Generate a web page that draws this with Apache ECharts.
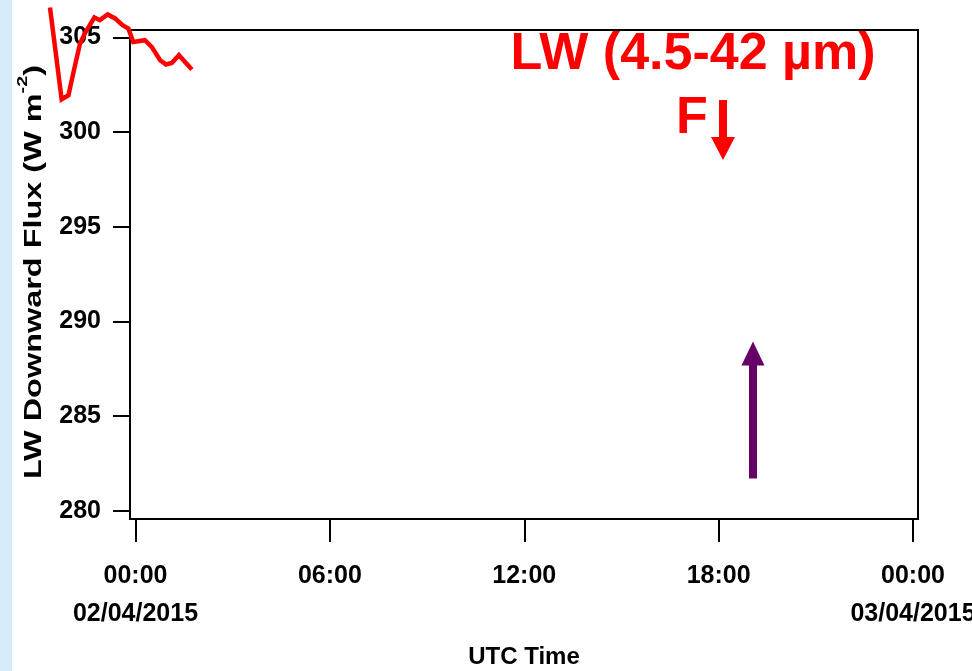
<!DOCTYPE html>
<html>
<head>
<meta charset="utf-8">
<script src="https://cdn.jsdelivr.net/npm/echarts@6/dist/echarts.min.js"></script>
<style>
  html, body { margin: 0; padding: 0; background: #ffffff; }
  #chart { width: 972px; height: 671px; }
</style>
</head>
<body>
<div id="chart"></div>
<script>
// Time in hours relative to 00:00 UTC on 02/04/2015
const timeHours = [-2.64, -2.28, -2.07, -1.90, -1.71, -1.56, -1.27, -1.10, -0.86, -0.63, -0.40,
                   -0.22, -0.07, 0.29, 0.50, 0.76, 0.94, 1.12, 1.34, 1.53, 1.74];
// Downwelling longwave flux (W m-2)
const lwDownFlux = [306.59, 301.74, 301.95, 303.28, 304.70, 305.23, 306.06, 305.92, 306.22, 306.01, 305.65,
                    305.48, 304.77, 304.86, 304.51, 303.80, 303.58, 303.66, 304.07, 303.71, 303.31];

const xTickHours = [0, 6, 12, 18, 24];
const xTickLabels = ['00:00\n02/04/2015', '06:00', '12:00', '18:00', '00:00\n03/04/2015'];
const yTickValues = [280, 285, 290, 295, 300, 305];

// Event marker: time (h) and flux span of the upward arrow
const markerHour = [19.06];
const markerFlux = [281.7, 288.3];

// Axis extents of the framed plot
const xRange = [-0.17, 24.154];
const yRange = [279.56, 305.40];

const W = 972, H = 671;
const plot = { left: 130, top: 30, right: 54, bottom: 152 };

// The trace runs past the frame, so it is drawn on a full-canvas grid whose
// scales are extended to coincide with the framed plot's scales.
const xPerPx = (xRange[1] - xRange[0]) / (W - plot.left - plot.right);
const yPerPx = (yRange[1] - yRange[0]) / (H - plot.top - plot.bottom);
const xOuter = [xRange[0] - plot.left * xPerPx, xRange[1] + plot.right * xPerPx];
const yOuter = [yRange[0] - plot.bottom * yPerPx, yRange[1] + plot.top * yPerPx];

const tickFont = "'Liberation Sans', Arial, Helvetica, sans-serif";
const mainFont = "'Liberation Sans', Arial, Helvetica, sans-serif";

const chart = echarts.init(document.getElementById('chart'), null, { renderer: 'canvas' });

chart.setOption({
  animation: false,
  backgroundColor: '#ffffff',
  grid: [{
    left: plot.left, top: plot.top, right: plot.right, bottom: plot.bottom,
    containLabel: false,
    outerBoundsMode: 'none',
    show: true,
    borderColor: '#000000',
    borderWidth: 2,
    backgroundColor: '#ffffff'
  }, {
    left: 0, top: 0, right: 0, bottom: 0,
    containLabel: false,
    outerBoundsMode: 'none',
    show: false
  }],
  xAxis: [{
    type: 'value',
    gridIndex: 0,
    min: xRange[0],
    max: xRange[1],
    splitLine: { show: false },
    axisLine: { show: true, onZero: false, lineStyle: { color: '#000000', width: 2 } },
    axisTick: { show: true, customValues: xTickHours, length: 23, lineStyle: { color: '#000000', width: 2 } },
    axisLabel: {
      customValues: xTickHours,
      formatter: v => xTickLabels[xTickHours.indexOf(v)] || '',
      margin: 38,
      color: '#000000',
      fontFamily: tickFont,
      fontWeight: 'bold',
      fontSize: 25,
      lineHeight: 38
    },
    name: 'UTC Time',
    nameLocation: 'middle',
    nameGap: 126,
    nameTextStyle: { color: '#000000', fontFamily: tickFont, fontWeight: 'bold', fontSize: 24 }
  }, {
    type: 'value',
    gridIndex: 1,
    min: xOuter[0],
    max: xOuter[1],
    show: false
  }],
  yAxis: [{
    type: 'value',
    gridIndex: 0,
    min: yRange[0],
    max: yRange[1],
    splitLine: { show: false },
    axisLine: { show: true, onZero: false, lineStyle: { color: '#000000', width: 2 } },
    axisTick: { show: true, customValues: yTickValues, length: 17, lineStyle: { color: '#000000', width: 2 } },
    axisLabel: {
      customValues: yTickValues,
      margin: 29,
      color: '#000000',
      fontFamily: tickFont,
      fontWeight: 'bold',
      fontSize: 25
    }
  }, {
    type: 'value',
    gridIndex: 1,
    min: yOuter[0],
    max: yOuter[1],
    show: false
  }],
  series: [{
    type: 'line',
    xAxisIndex: 1,
    yAxisIndex: 1,
    data: timeHours.map((h, i) => [h, lwDownFlux[i]]),
    showSymbol: false,
    clip: false,
    silent: true,
    z: 5,
    lineStyle: { color: '#ff0000', width: 4.5, join: 'miter' },
    markLine: {
      silent: true,
      symbol: ['none', 'triangle'],
      symbolSize: [23, 24],
      label: { show: false },
      lineStyle: { color: '#660066', width: 8, type: 'solid', opacity: 1 },
      emphasis: { disabled: true },
      data: [[
        { coord: [markerHour[0], markerFlux[0]] },
        { coord: [markerHour[0], markerFlux[1]] }
      ]]
    }
  }],
  graphic: [
    // pale blue band on the left edge
    { type: 'rect', z: -10, shape: { x: 0, y: 0, width: 12, height: 671 }, style: { fill: '#d7ecfb' } },
    // y-axis title with superscript unit
    {
      type: 'text',
      x: 31, y: 272,
      rotation: Math.PI / 2,
      scaleX: 1.41,
      style: {
        text: '{a|LW Downward Flux (W m}{s|-2}{a|)}',
        align: 'center', verticalAlign: 'middle',
        textAlign: 'center', textVerticalAlign: 'middle',
        fill: '#000000',
        rich: {
          a: { fontFamily: mainFont, fontWeight: 'bold', fontSize: 23, lineHeight: 30, verticalAlign: 'bottom', fill: '#000000' },
          s: { fontFamily: mainFont, fontWeight: 'bold', fontSize: 14, lineHeight: 30, verticalAlign: 'top', fill: '#000000' }
        }
      }
    },
    // band annotation
    {
      type: 'text', x: 693, y: 55,
      style: {
        text: 'LW (4.5-42 µm)',
        font: 'bold 52px ' + mainFont,
        fill: '#ff0000',
        align: 'center', verticalAlign: 'middle',
        textAlign: 'center', textVerticalAlign: 'middle'
      }
    },
    {
      type: 'text', x: 676, y: 119,
      style: {
        text: 'F',
        font: 'bold 52px ' + mainFont,
        fill: '#ff0000',
        align: 'left', verticalAlign: 'middle',
        textAlign: 'left', textVerticalAlign: 'middle'
      }
    },
    {
      type: 'polygon',
      shape: { points: [[719, 100], [727, 100], [727, 137], [735, 137], [723, 160], [711, 137], [719, 137]] },
      style: { fill: '#ff0000' }
    }
  ]
});
</script>
</body>
</html>
